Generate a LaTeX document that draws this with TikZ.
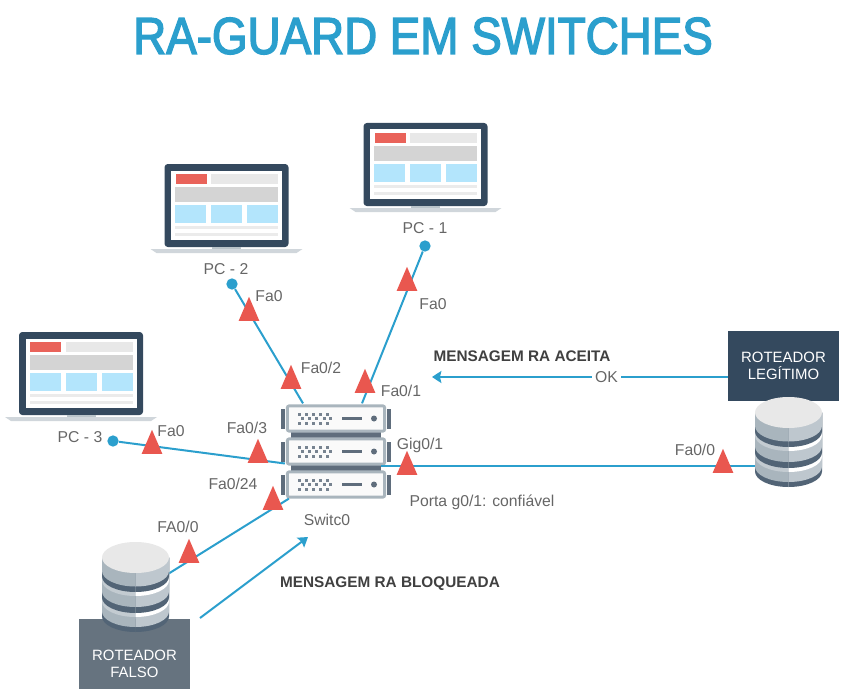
\documentclass[tikz,border=0pt]{standalone}
\usepackage{fontspec}
\setmainfont{Liberation Sans}
\newfontfamily\titlefont[FakeStretch=0.88,FakeBold=2.6]{Liberation Sans}
\usetikzlibrary{arrows.meta}
\usetikzlibrary{calc}
\usetikzlibrary{shapes.geometric}
\definecolor{linkblue}{HTML}{2B9FCD}
\definecolor{navy}{HTML}{34495E}
\definecolor{slate}{HTML}{66737F}
\definecolor{trired}{HTML}{E9574F}
\definecolor{labgray}{HTML}{666666}
\definecolor{rackgray}{HTML}{A9B5BD}
\definecolor{rackdark}{HTML}{5F6D7C}
\definecolor{screenred}{HTML}{E9635A}
\definecolor{screenblue}{HTML}{B3E5FC}
\newcommand{\pxfont}[1]{\fontsize{#1}{#1}\selectfont}

\tikzset{
  laptop/.pic={
    \fill[navy, rounded corners=2.5] (-62,-42) rectangle (62,41);
    \fill[white] (-55.5,-35.5) rectangle (55.5,34);
    \fill[screenred] (-51,-32) rectangle (-20,-22);
    \fill[black!9] (-15.5,-32) rectangle (51.5,-22);
    \fill[black!17] (-51.5,-19) rectangle (51.5,-4);
    \foreach \xa in {-51.5,-15.5,20.5} {
      \fill[screenblue] (\xa,-1) rectangle ++(31,18);
    }
    \fill[black!8] (-51.5,20) rectangle (51.5,23);
    \fill[black!8] (-51.5,27) rectangle (51.5,30);
    \fill[rackgray!80] (-14.5,41) rectangle (14.5,43);
    \fill[rackgray!55] (-76,43) -- (76,43) -- (70,47) -- (-70,47) -- cycle;
  },
  rackface/.pic={
    \fill[rackdark] (-55,-10) rectangle (-51,10);
    \fill[rackdark] (51,-10) rectangle (55,10);
    \foreach \xa in {-38.5,-31.5,-24.5,-17,-10} {
      \fill[rackdark!85] (\xa,-6) rectangle ++(3,3);
      \fill[rackdark!85] (\xa,3) rectangle ++(3,3);
    }
    \foreach \xa in {-35,-28,-21,-13.5,-7} {
      \fill[rackdark!85] (\xa,-1.5) rectangle ++(3,3);
    }
    \fill[rackdark] (6,-1.5) rectangle (26,1.5);
    \fill[rackdark] (38,0) circle (3);
  },
  dbstack/.pic={
    % slabs are painted from the bottom up %%%%%%%%%%%%%%%%%%%%%%%%%%%%%%%%%%%%%%%%%%%
    \foreach \ea/\colL/\colR in {
        59/navy!85/navy!85, 54/rackgray/rackgray!75,
        44/rackgray!70/white, 40/navy!85/navy!85, 34/rackgray/rackgray!75,
        23/rackgray!70/white, 19/navy!85/navy!85, 13.5/rackgray/rackgray!75} {
      \fill[\colL] (-33.5,0) -- (-33.5,\ea) arc[start angle=180, end angle=90, x radius=33.5, y radius=15.5] -- (0,0) -- cycle;
      \fill[\colR] (33.5,0) -- (33.5,\ea) arc[start angle=0, end angle=90, x radius=33.5, y radius=15.5] -- (0,0) -- cycle;
    }
    \fill[black!9] (0,0) ellipse [x radius=33.5, y radius=15.5];
  }
}

\begin{document}
\begin{tikzpicture}[x=0.75pt, y=-0.75pt]

    \tikzstyle{lab} = [rectangle, inner sep=0pt, text=labgray, font=\pxfont{11.8}]
    \tikzstyle{msg} = [rectangle, inner sep=0pt, text=black!75, font=\pxfont{11.5}\bfseries]
    \tikzstyle{swunit} = [rectangle, rounded corners=1.5pt, draw=rackgray, line width=2.2pt, fill=black!2, minimum width=73pt, minimum height=19pt, inner sep=0pt]
    \tikzstyle{swbar} = [rectangle, fill=rackdark, minimum width=67.5pt, minimum height=5pt, inner sep=0pt]
    \tikzstyle{rtr} = [rectangle, text=white, minimum width=83.25pt, minimum height=52.5pt, align=center, font=\fontsize{11.2}{12.75}\selectfont, inner sep=0pt]
    \tikzstyle{pcdot} = [circle, fill=linkblue, minimum size=8.5pt, inner sep=0pt]
    \tikzstyle{port} = [isosceles triangle, isosceles triangle stretches, shape border rotate=90, fill=trired, minimum width=15.5pt, minimum height=18pt, inner sep=0pt]
    \tikzstyle{link} = [linkblue, line width=1.5pt]
    \tikzstyle{connector} = [-{Stealth[length=7pt, width=9pt, inset=1pt]}, linkblue, line width=1.5pt]

    \useasboundingbox (0,0) rectangle (843,699);

    \node[font=\titlefont\pxfont{39}, text=linkblue, inner sep=0pt] (title) at (423,36) {RA-GUARD EM SWITCHES};

    % Laptops with their dots %%%%%%%%%%%%%%%%%%%%%%%%%%%%%%%%%%%%%%%%%%%%%%%%%%%%%%%%%%
    \pic (lapA) at (425.5,165) {laptop};
    \pic (lapB) at (226.5,206) {laptop};
    \pic (lapC) at (81,374) {laptop};

    \node [lab] (pcA) at (425,228) {PC - 1};
    \node [lab] (pcB) at (226,269) {PC - 2};
    \node [lab] (pcC) at (80,437) {PC - 3};

    \node [pcdot] (dotA) at (425,246) {};
    \node [pcdot] (dotB) at (232,284) {};
    \node [pcdot] (dotC) at (113,441) {};

    % Switch %%%%%%%%%%%%%%%%%%%%%%%%%%%%%%%%%%%%%%%%%%%%%%%%%%%%%%%%%%%%%%%%%%%%%%%%%%%
    \node [swbar] (barA) at (335.5,434.5) {};
    \node [swbar] (barB) at (335.5,468) {};
    \node [swunit] (swA) at (336,418.5) {};
    \node [swunit] (swB) at (336,451.5) {};
    \node [swunit] (swC) at (336,484.5) {};
    \foreach \swname in {swA,swB,swC} {
      \pic at (\swname) {rackface};
    }

    % Routers %%%%%%%%%%%%%%%%%%%%%%%%%%%%%%%%%%%%%%%%%%%%%%%%%%%%%%%%%%%%%%%%%%%%%%%%%%
    \node [rtr, fill=navy] (rtrA) at (783.5,366) {ROTEADOR\\LEGÍTIMO};
    \node [rtr, fill=slate] (rtrB) at (134.5,653.5) {\rule{0pt}{24pt}ROTEADOR\\FALSO};

    \coordinate (dbA) at (755,466);
    \coordinate (dbB) at (168,574);
    \coordinate (tipOk) at (432,377);
    \coordinate (tipBlock) at (308,537);
    \coordinate (tailBlock) at (200,618);

    % Now link the nodes %%%%%%%%%%%%%%%%%%%%%%%%%%%%%%%%%%%%%%%%%%%%%%%%%%%%%%%%%%%%%%%
    \draw [link] (dotA) -- ($(swA.north) + (26,-1)$);
    \draw [link] (dotB) -- ($(swA.north) + (-33,-1)$);
    \draw [link] (dotC) -- ($(swB.west) + (-1,12)$);
    \draw [link] (dbB) -- ($(swC.south west) + (3,0)$);
    \draw [link] ($(barB.east) + (0,-2)$) -- (dbA);

    \draw [connector] ($(rtrA.west) + (0,11)$) -- (tipOk) node[pos=0.41, fill=white, text=labgray, inner sep=2pt, font=\pxfont{11.8}] (okLab) {OK};
    \draw [connector] (tailBlock) -- (tipBlock);

    \pic (dbUp) at (788.5,412.5) {dbstack};
    \pic (dbDown) at (135.5,557.5) {dbstack};

    % Port markers %%%%%%%%%%%%%%%%%%%%%%%%%%%%%%%%%%%%%%%%%%%%%%%%%%%%%%%%%%%%%%%%%%%%%
    \foreach \pname/\pos in {a/{407,284}, b/{249,314}, c/{291,382}, d/{365,386}, e/{258,456},
                             f/{407,468}, g/{152,447}, h/{273,503}, i/{189,556}, j/{723,466}} {
      \node [port] (tri\pname) at (\pos) {};
    }

    % Labels %%%%%%%%%%%%%%%%%%%%%%%%%%%%%%%%%%%%%%%%%%%%%%%%%%%%%%%%%%%%%%%%%%%%%%%%%%%
    \node [lab] (lA) at (433,304) {Fa0};
    \node [lab] (lB) at (269,296) {Fa0};
    \node [lab] (lC) at (321,368) {Fa0/2};
    \node [lab] (lD) at (401,391) {Fa0/1};
    \node [lab] (lE) at (247,428) {Fa0/3};
    \node [lab] (lF) at (420,445) {Gig0/1};
    \node [lab] (lG) at (171,431) {Fa0};
    \node [lab] (lH) at (233,484) {Fa0/24};
    \node [lab] (lI) at (327,520) {Switc0};
    \node [lab] (lJ) at (178,527) {FA0/0};
    \node [lab] (lK) at (695,450) {Fa0/0};
    \node [lab] (lL) at (482,502) {Porta g0/1: confiável};

    \node [msg] (msgA) at (522,356) {MENSAGEM RA ACEITA};
    \node [msg] (msgB) at (390,584) {MENSAGEM RA BLOQUEADA};

\end{tikzpicture}
\end{document}
